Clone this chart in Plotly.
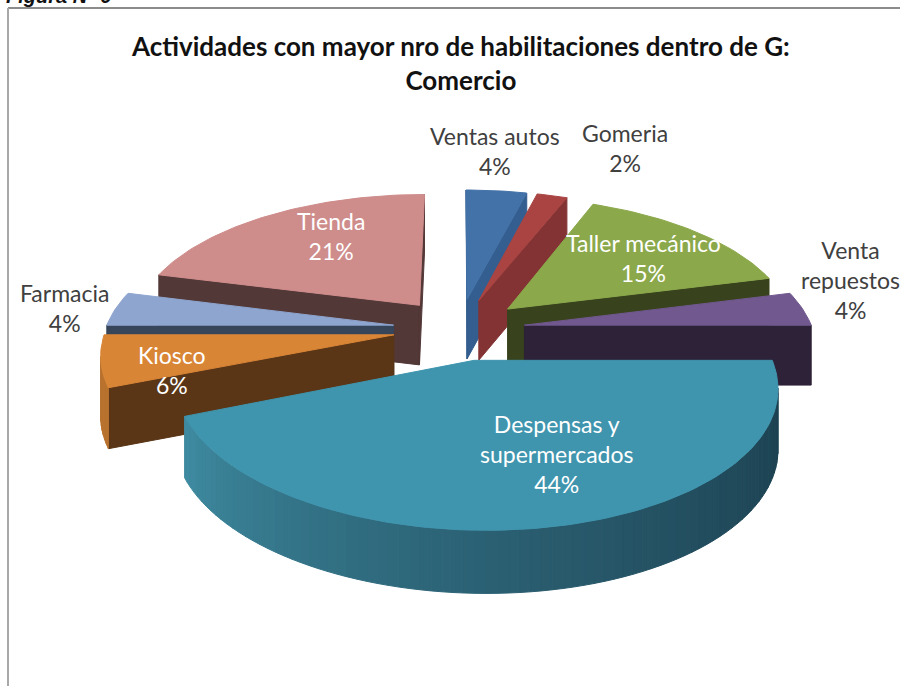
import math
import plotly.graph_objects as go

# Data
categories = ["Ventas autos", "Gomeria", "Taller mecánico", "Venta repuestos",
              "Despensas y supermercados", "Kiosco", "Farmacia", "Tienda"]
values = [4, 2, 15, 4, 44, 6, 4, 21]
top_colors = ["#4372A8", "#A94442", "#8BA84B", "#71588F", "#3F95AE", "#D98536", "#8EA5CF", "#CE8C8B"]
cut_colors = ["#345E8F", "#833333", "#38431D", "#2D2238", "#3A8096", "#5A3617", "#364559", "#533838"]
rim_colors = ["#3F6CA0", "#833333", "#38431D", "#2D2238", None, "#B8722E", "#7C90B5", "#B87E7D"]
label_text = ["Ventas autos<br>4%", "Gomeria<br>2%", "Taller mecánico<br>15%", "Venta<br>repuestos<br>4%",
              "Despensas y<br>supermercados<br>44%", "Kiosco<br>6%", "Farmacia<br>4%", "Tienda<br>21%"]
label_x = [495, 625, 643, 850, 556, 172, 64, 331]
label_y = [151, 148, 258, 280, 454, 370, 308, 236]
label_color = ["#404040", "#404040", "#FFFFFF", "#404040", "#FFFFFF", "#FFFFFF", "#404040", "#FFFFFF"]
draw_order = [0, 1, 7, 6, 2, 3, 5, 4]

# Projection of the exploded pie
CX, CY, RX, RY, K, EXPL, H, SHEAR = 459, 329, 288, 134, 0.15, 0.23, 60, 10


def proj(x, y, z=0):
    w = 1 + K * y
    return CX + RX * x / w - SHEAR * min(y, 0), CY - RY * y / w + H * z / w ** 0.25


def hexmix(a, b, t):
    ca = [int(a[i:i + 2], 16) for i in (1, 3, 5)]
    cb = [int(b[i:i + 2], 16) for i in (1, 3, 5)]
    return "#%02X%02X%02X" % tuple(round(p + (q - p) * t) for p, q in zip(ca, cb))


def area(pts):
    return sum(pts[i][0] * pts[(i + 1) % len(pts)][1] - pts[(i + 1) % len(pts)][0] * pts[i][1]
               for i in range(len(pts)))


fig = go.Figure()


def poly(pts, color):
    fig.add_trace(go.Scatter(
        x=[p[0] for p in pts] + [pts[0][0]], y=[p[1] for p in pts] + [pts[0][1]],
        mode="lines", fill="toself", fillcolor=color,
        line=dict(color=color, width=1), hoverinfo="skip", showlegend=False))


total = sum(values)
starts = [sum(values[:i]) / total * 2 * math.pi for i in range(len(values))]
for i in draw_order:
    a0 = starts[i]
    a1 = a0 + values[i] / total * 2 * math.pi
    mid = (a0 + a1) / 2
    ox, oy = EXPL * math.sin(mid), EXPL * math.cos(mid)
    pt = lambda a, z=0: proj(ox + math.sin(a), oy + math.cos(a), z)
    apex = lambda z=0: proj(ox, oy, z)
    # cut faces
    f0 = [apex(), pt(a0), pt(a0, 1), apex(1)]
    f1 = [pt(a1), apex(), apex(1), pt(a1, 1)]
    for f in (f0, f1):
        if area(f) < 0:
            poly(f, cut_colors[i])
    # rim: walk from the far end backwards so each band overlaps the previous one
    n = max(3, int(values[i] * 2))
    for j in range(n - 1, -1, -1):
        b0 = a0 + (a1 - a0) * j / n
        b1 = a0 + (a1 - a0) * (j + 1) / n
        seg = [pt(b0), pt(b1), pt(b1, 1), pt(b0, 1)]
        if area(seg) < 0:
            if rim_colors[i] is None:
                col = hexmix("#1C4050", "#3F8CA2", ((j + 0.5) / n) ** 1.5)
            else:
                col = rim_colors[i]
            poly(seg, col)
    # top
    m = max(4, int(values[i] * 3))
    top = [apex()] + [pt(a0 + (a1 - a0) * j / m) for j in range(m + 1)]
    poly(top, top_colors[i])

annotations = [
    dict(x=x, y=y, text=t, showarrow=False, xref="x", yref="y", align="center",
         font=dict(family="Lato, Carlito, sans-serif", size=23, color=c))
    for t, x, y, c in zip(label_text, label_x, label_y, label_color)
]
annotations.append(dict(x=460, y=63, xref="x", yref="y", showarrow=False, align="center",
                        text="<b>Actividades con mayor nro de habilitaciones dentro de G:<br>Comercio</b>",
                        font=dict(family="Lato, sans-serif", size=26, color="#111111")))
annotations.append(dict(x=4 / 900, y=1 + 4 / 686, xref="paper", yref="paper", showarrow=False,
                        xanchor="left", yanchor="middle",
                        text="<b><i>Figura Nº 6</i></b>",
                        font=dict(family="Liberation Sans", size=20, color="#111111")))

fig.update_layout(
    width=900, height=686, margin=dict(l=0, r=0, t=0, b=0),
    paper_bgcolor="white", plot_bgcolor="white", showlegend=False,
    xaxis=dict(range=[0, 900], visible=False, fixedrange=True),
    yaxis=dict(range=[686, 0], visible=False, fixedrange=True),
    annotations=annotations,
    shapes=[dict(type="line", x0=8, x1=900, y0=8, y1=8, line=dict(color="#8C8C8C", width=2)),
            dict(type="line", x0=8, x1=8, y0=8, y1=686, line=dict(color="#A8A8A8", width=2))],
)
fig.write_html("out.html", config=dict(displayModeBar=False),
               post_script="document.body.style.margin='0';document.body.style.overflow='hidden';")
